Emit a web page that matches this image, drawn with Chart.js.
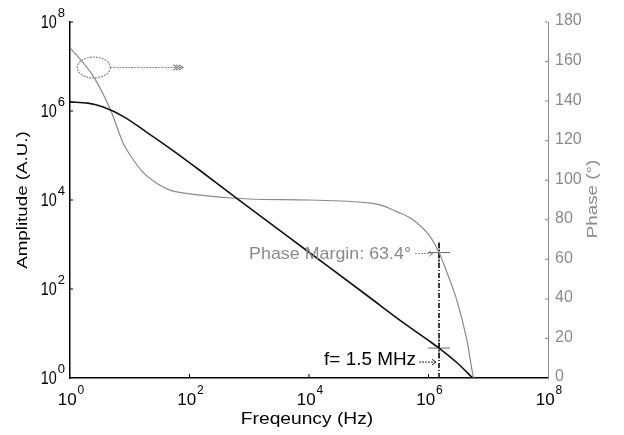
<!DOCTYPE html>
<html lang="en">
<head>
<meta charset="UTF-8">
<title>Bode plot</title>
<script src="https://cdn.jsdelivr.net/npm/chart.js@4.4.1/dist/chart.umd.min.js"></script>
<style>
  body { margin: 0; background: #fff; }
</style>
</head>
<body>
<canvas id="chart" width="624" height="435"></canvas>
<script>
// values
const freqAmp   = [1, 2, 3.6, 8, 16.7, 47, 150, 650, 1e4, 1e5, 3.3e5, 1e6, 1.5e6, 3e6, 5.5e6]
const amplitude = [1.6e6, 1.5e6, 1.23e6, 7.4e5, 3.8e5, 1.45e5, 4.6e4, 1.03e4, 670, 67, 20, 7, 4.7, 2.2, 1.0]

const freqPhase = [1, 2.4, 4.7, 7.7, 10, 16.7, 30, 47, 150, 1e3, 1e4, 1e5, 1.55e5, 3e5, 5.5e5, 1.07e6, 1.5e6, 2e6, 3e6, 4.4e6, 5.5e6, 5.7e6]
const phase     = [167, 153, 136, 119, 113, 104, 98, 95, 92.5, 90.5, 90, 88.5, 87.5, 84, 80, 71.4, 63.4, 54, 39, 19, 2, 0]

const freqTicks  = [1, 1e2, 1e4, 1e6, 1e8]
const ampTicks   = [1, 1e2, 1e4, 1e6, 1e8]
const phaseTicks = [0, 20, 40, 60, 80, 100, 120, 140, 160, 180]

const markerFreq  = 1.5e6
const markerPhase = 63.4
const markerAmp   = 4.7
const guideTop    = 69          // top of the dash-dot line, in degrees
const ellipseAt   = [2.5, 157]  // [Hz, deg]
const arrowTo     = [78, 157]

const FONT = '"Liberation Sans", Arial, Helvetica, sans-serif'
const GRAY = '#8a8a8a'

function xy(xs, ys) { return xs.map((v, i) => ({ x: v, y: ys[i] })) }

function text(ctx, str, x, y, size, color, align, sx, rot) {
  ctx.save()
  ctx.translate(x, y)
  if (rot) ctx.rotate(rot)
  ctx.scale(sx || 1, 1)
  ctx.font = size + 'px ' + FONT
  ctx.fillStyle = color
  ctx.textAlign = align
  ctx.textBaseline = 'middle'
  ctx.fillText(str, 0, 0)
  ctx.restore()
}

// "10" with a raised exponent
function pow10(ctx, exp, x, y, size, sx, supSize, align) {
  ctx.font = size + 'px ' + FONT
  const w10 = ctx.measureText('10').width * sx
  ctx.font = supSize + 'px ' + FONT
  const we = ctx.measureText(exp).width
  const total = w10 + 1 + we
  const left = align === 'right' ? x - total : x - total / 2
  text(ctx, '10', left, y, size, '#000', 'left', sx)
  ctx.font = supSize + 'px ' + FONT
  ctx.fillStyle = '#000'
  ctx.textAlign = 'left'
  ctx.textBaseline = 'alphabetic'
  ctx.fillText(exp, left + w10 + 1, y - size * 0.36)
}

function seg(ctx, x1, y1, x2, y2) {
  ctx.beginPath(); ctx.moveTo(x1, y1); ctx.lineTo(x2, y2); ctx.stroke()
}

function chevron(ctx, x, y, s) {
  ctx.beginPath(); ctx.moveTo(x - s, y - s * 0.7); ctx.lineTo(x, y); ctx.lineTo(x - s, y + s * 0.7); ctx.stroke()
}

const overlay = {
  id: 'overlay',
  afterDraw(chart) {
    const { ctx, chartArea: a } = chart
    const { x, y, yPhase } = chart.scales
    ctx.save()

    // tick marks, pointing inwards
    ctx.lineWidth = 1
    ctx.strokeStyle = '#000'
    freqTicks.slice(1, -1).forEach(v => {
      const px = x.getPixelForValue(v)
      seg(ctx, px, a.bottom, px, a.bottom - 4)
    })
    ampTicks.slice(1).forEach(v => {
      const py = y.getPixelForValue(v)
      seg(ctx, a.left, py, a.left + 3, py)
    })
    ctx.strokeStyle = GRAY
    phaseTicks.slice(1).forEach(v => {
      const py = yPhase.getPixelForValue(v)
      seg(ctx, a.right, py, a.right - 3, py)
    })

    // tick labels
    freqTicks.forEach(v => {
      pow10(ctx, String(Math.round(Math.log10(v))), x.getPixelForValue(v) + 1, a.bottom + 22, 17, 1, 12, 'center')
    })
    ampTicks.forEach(v => {
      pow10(ctx, String(Math.round(Math.log10(v))), a.left - 5, y.getPixelForValue(v) + 1, 18, 0.8, 13, 'right')
    })
    phaseTicks.forEach(v => {
      text(ctx, String(v), a.right + 7, yPhase.getPixelForValue(v) - 1, 16, GRAY, 'left', 1)
    })

    // axis titles
    text(ctx, 'Freqeuncy (Hz)', (a.left + a.right) / 2 - 2, a.bottom + 42, 16, '#000', 'center', 1.2)
    text(ctx, 'Amplitude (A.U.)', 23, 200, 15, '#000', 'center', 1.25, -Math.PI / 2)
    text(ctx, 'Phase (\u00b0)', 593, 199, 15, GRAY, 'center', 1.25, -Math.PI / 2)

    // ellipse with arrow pointing to the phase axis
    const ex = x.getPixelForValue(ellipseAt[0])
    const ey = yPhase.getPixelForValue(ellipseAt[1])
    const ax = x.getPixelForValue(arrowTo[0])
    ctx.strokeStyle = GRAY
    ctx.lineWidth = 1.2
    ctx.setLineDash([2, 1])
    ctx.beginPath(); ctx.ellipse(ex, ey, 16.5, 10.5, 0, 0, Math.PI * 2); ctx.stroke()
    seg(ctx, ex + 16.5, ey, ax, ey)
    ctx.setLineDash([])
    chevron(ctx, ax, ey, 4); chevron(ctx, ax - 3, ey, 4); chevron(ctx, ax - 6, ey, 4)

    // annotations at the crossover
    const mx = x.getPixelForValue(markerFreq)
    const pmY = yPhase.getPixelForValue(markerPhase)
    const faY = y.getPixelForValue(markerAmp)
    text(ctx, 'Phase Margin: 63.4\u00b0', mx - 28, pmY + 2, 17, GRAY, 'right', 1.05)
    ctx.strokeStyle = GRAY
    ctx.lineWidth = 1
    ctx.setLineDash([2, 1])
    seg(ctx, mx - 24, pmY + 1, mx - 6, pmY + 1)
    ctx.setLineDash([])
    chevron(ctx, mx - 6, pmY + 1, 4)

    text(ctx, 'f= 1.5 MHz', mx - 23, faY + 12, 18, '#000', 'right', 1.05)
    ctx.strokeStyle = '#222'
    ctx.setLineDash([2, 1])
    seg(ctx, mx - 20, faY + 14, mx - 3, faY + 14)
    ctx.setLineDash([])
    chevron(ctx, mx - 3, faY + 14, 4)

    ctx.restore()
  }
}

const onlyTicks = list => scale => { scale.ticks = list.map(v => ({ value: v })) }

new Chart(document.getElementById('chart'), {
  type: 'line',
  data: {
    datasets: [
      {
        data: xy(freqAmp, amplitude), yAxisID: 'y',
        borderColor: '#111', borderWidth: 1.6, pointRadius: 0,
        cubicInterpolationMode: 'monotone', clip: 4
      },
      {
        data: xy(freqPhase, phase), yAxisID: 'yPhase',
        borderColor: GRAY, borderWidth: 1.2, pointRadius: 0,
        cubicInterpolationMode: 'monotone', clip: 4
      },
      {
        data: [{ x: markerFreq, y: 0 }, { x: markerFreq, y: guideTop }], yAxisID: 'yPhase',
        borderColor: '#000', borderWidth: 1.5, borderDash: [5, 2, 1, 2], pointRadius: 0
      },
      {
        data: [{ x: markerFreq, y: markerPhase }], yAxisID: 'yPhase', showLine: false,
        pointStyle: 'cross', pointRadius: 11, pointBorderColor: '#666', pointBorderWidth: 1
      },
      {
        data: [{ x: markerFreq, y: markerAmp }], yAxisID: 'y', showLine: false,
        pointStyle: 'cross', pointRadius: 11, pointBorderColor: '#666', pointBorderWidth: 1
      }
    ]
  },
  options: {
    responsive: false,
    animation: false,
    layout: { padding: { top: 22, left: 0, right: 0, bottom: 0 } },
    plugins: { legend: { display: false }, tooltip: { enabled: false } },
    scales: {
      x: {
        type: 'logarithmic', position: 'bottom', min: 1, max: 1e8,
        grid: { display: false },
        border: { display: true, color: '#000', width: 1.5 },
        ticks: { display: false },
        afterBuildTicks: onlyTicks(freqTicks),
        afterFit: s => { s.height = 57 }
      },
      y: {
        type: 'logarithmic', position: 'left', min: 1, max: 1e8,
        grid: { display: false },
        border: { display: true, color: '#000', width: 1.5 },
        ticks: { display: false },
        afterBuildTicks: onlyTicks(ampTicks),
        afterFit: s => { s.width = 70 }
      },
      yPhase: {
        type: 'linear', position: 'right', min: 0, max: 180,
        grid: { display: false },
        border: { display: true, color: GRAY, width: 1 },
        ticks: { display: false },
        afterBuildTicks: onlyTicks(phaseTicks),
        afterFit: s => { s.width = 76 }
      }
    }
  },
  plugins: [overlay]
})
</script>
</body>
</html>
